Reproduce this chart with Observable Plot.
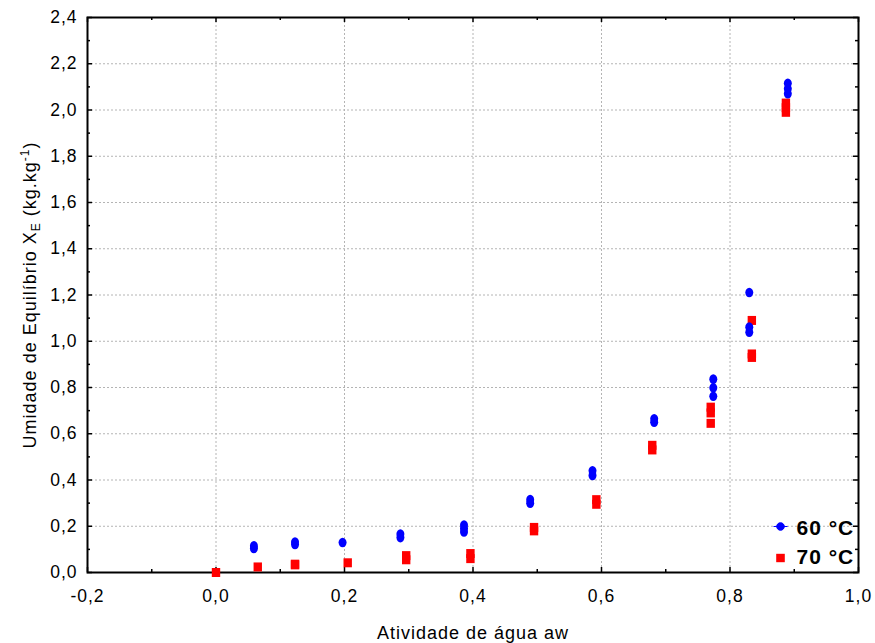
<!DOCTYPE html>
<html>
<head>
<meta charset="utf-8">
<script src="https://cdn.jsdelivr.net/npm/d3@7"></script>
<script src="https://cdn.jsdelivr.net/npm/@observablehq/plot@0.6"></script>
<style>
  html, body { margin: 0; padding: 0; background: #ffffff; }
  #chart { width: 875px; height: 643px; }
</style>
</head>
<body>
<div id="chart"></div>
<script>
// ---- Data ----
// 60 °C series
const aw60 = [0.059, 0.059, 0.123, 0.123, 0.197, 0.287, 0.287, 0.386, 0.386, 0.386,
              0.489, 0.489, 0.586, 0.586, 0.682, 0.682, 0.774, 0.774, 0.774,
              0.830, 0.830, 0.830, 0.890, 0.890, 0.890];
const xe60 = [0.115, 0.104, 0.132, 0.121, 0.130, 0.166, 0.151, 0.205, 0.190, 0.175,
              0.315, 0.300, 0.440, 0.420, 0.665, 0.650, 0.836, 0.799, 0.762,
              1.211, 1.061, 1.039, 2.116, 2.092, 2.070];
// 70 °C series
const aw70 = [0.000, 0.065, 0.123, 0.123, 0.205, 0.296, 0.296, 0.396, 0.396,
              0.495, 0.495, 0.592, 0.592, 0.679, 0.679, 0.770, 0.770, 0.770,
              0.834, 0.834, 0.834, 0.887, 0.887, 0.887];
const xe70 = [0.000, 0.024, 0.036, 0.033, 0.042, 0.073, 0.055, 0.082, 0.060,
              0.195, 0.180, 0.315, 0.295, 0.550, 0.530, 0.715, 0.690, 0.645,
              1.090, 0.945, 0.930, 2.030, 2.010, 1.990];

const seriesNames = ["60 °C", "70 °C"];

// Axis ticks
const xMajor = [-0.2, 0.0, 0.2, 0.4, 0.6, 0.8, 1.0];
const xMinor = [-0.1, 0.1, 0.3, 0.5, 0.7, 0.9];
const yMajor = [0.0, 0.2, 0.4, 0.6, 0.8, 1.0, 1.2, 1.4, 1.6, 1.8, 2.0, 2.2, 2.4];
const yMinor = [0.1, 0.3, 0.5, 0.7, 0.9, 1.1, 1.3, 1.5, 1.7, 1.9, 2.1, 2.3];
const xGrid = [0.0, 0.2, 0.4, 0.6, 0.8];
const yGrid = [0.2, 0.4, 0.6, 0.8, 1.0, 1.2, 1.4, 1.6, 1.8, 2.0, 2.2];

const xTitle = "Atividade de água aw";
const yTitleParts = ["Umidade de Equilíbrio X", "E", " (kg.kg", "-1", ")"];

// ---- Build ----
const rows60 = aw60.map((a, i) => ({aw: a, xe: xe60[i]}));
const rows70 = aw70.map((a, i) => ({aw: a, xe: xe70[i]}));

const W = 875, H = 643;
const mL = 87, mR = 17, mT = 17, mB = 71;
const innerW = W - mL - mR, innerH = H - mT - mB;

function ellipse(ctx, rx, ry) {
  const k = 0.5523;
  ctx.moveTo(rx, 0);
  ctx.bezierCurveTo(rx, ry * k, rx * k, ry, 0, ry);
  ctx.bezierCurveTo(-rx * k, ry, -rx, ry * k, -rx, 0);
  ctx.bezierCurveTo(-rx, -ry * k, -rx * k, -ry, 0, -ry);
  ctx.bezierCurveTo(rx * k, -ry, rx, -ry * k, rx, 0);
  ctx.closePath();
}
const blueSymbol = {draw(ctx) { ellipse(ctx, 4.0, 4.8); }};
const redSymbol = {draw(ctx) { ctx.rect(-4.2, -4.5, 8.4, 9); }};
const legendBlue = {draw(ctx) { ellipse(ctx, 3.8, 3.8); ctx.moveTo(-7, 0); ctx.lineTo(7, 0); }};
const legendRed = {draw(ctx) { ctx.rect(-4.3, -4.2, 8.6, 8.4); }};

const fmt = d => d.toFixed(1).replace(".", ",");
const font = "'Liberation Sans', Arial, Helvetica, sans-serif";
const gridStyle = {stroke: "#b4b4b4", strokeOpacity: 1, strokeWidth: 1, strokeDasharray: "2,2"};
const tickStyle = {stroke: "black", strokeWidth: 1.5};

const chart = Plot.plot({
  width: W, height: H,
  marginLeft: mL, marginRight: mR, marginTop: mT, marginBottom: mB,
  style: {fontFamily: font, background: "white", color: "black", letterSpacing: "1px"},
  x: {domain: [-0.2, 1.0]},
  y: {domain: [0, 2.4]},
  marks: [
    Plot.gridX(xGrid, gridStyle),
    Plot.gridY(yGrid, gridStyle),
    // inward ticks (bottom, top)
    Plot.tickX(xMajor, {x: d => d, insetTop: innerH - 5, ...tickStyle}),
    Plot.tickX(xMinor, {x: d => d, insetTop: innerH - 3, ...tickStyle}),
    Plot.tickX(xMajor, {x: d => d, insetBottom: innerH - 5, ...tickStyle}),
    Plot.tickX(xMinor, {x: d => d, insetBottom: innerH - 3, ...tickStyle}),
    // inward ticks (left, right)
    Plot.tickY(yMajor, {y: d => d, insetRight: innerW - 5, ...tickStyle}),
    Plot.tickY(yMinor, {y: d => d, insetRight: innerW - 3, ...tickStyle}),
    Plot.tickY(yMajor, {y: d => d, insetLeft: innerW - 5, ...tickStyle}),
    Plot.tickY(yMinor, {y: d => d, insetLeft: innerW - 3, ...tickStyle}),
    Plot.axisX(xMajor, {tickSize: 0, tickPadding: 17, tickFormat: fmt, label: null, fontSize: 17.5}),
    Plot.axisY(yMajor, {tickSize: 0, tickPadding: 10, tickFormat: fmt, label: null, fontSize: 17.5}),
    Plot.frame({stroke: "black", strokeWidth: 2}),
    // data
    Plot.dot(rows70, {x: "aw", y: "xe", symbol: redSymbol, fill: "#ff0000"}),
    Plot.dot(rows60, {x: "aw", y: "xe", symbol: blueSymbol, fill: "#0000ff"}),
    // axis titles
    Plot.text([xTitle], {frameAnchor: "bottom", textAnchor: "middle", lineAnchor: "bottom", dy: 66.5, fontSize: 18}),
    Plot.text([yTitleParts.join("")], {frameAnchor: "left", textAnchor: "middle", rotate: -90, lineAnchor: "top", dx: -64.5, fontSize: 18}),
    // legend
    Plot.dot([seriesNames[0]], {frameAnchor: "bottom-right", dx: -78, dy: -46, symbol: legendBlue, fill: "#0000ff", stroke: "#0000ff", strokeWidth: 1}),
    Plot.dot([seriesNames[1]], {frameAnchor: "bottom-right", dx: -78, dy: -14.5, symbol: legendRed, fill: "#ff0000"}),
    Plot.text([seriesNames[0]], {frameAnchor: "bottom-right", textAnchor: "start", lineAnchor: "bottom", dx: -62, dy: -38, fontSize: 21, fontWeight: "bold"}),
    Plot.text([seriesNames[1]], {frameAnchor: "bottom-right", textAnchor: "start", lineAnchor: "bottom", dx: -62, dy: -8.7, fontSize: 21, fontWeight: "bold"})
  ]
});

// subscript / superscript in the y title
d3.select(chart).selectAll("text")
  .filter(function() { return this.textContent === yTitleParts.join(""); })
  .each(function() {
    const t = d3.select(this);
    t.text(null);
    t.append("tspan").text(yTitleParts[0]);
    t.append("tspan").attr("dy", 4).attr("font-size", 12).text(yTitleParts[1]);
    t.append("tspan").attr("dy", -4).text(yTitleParts[2]);
    t.append("tspan").attr("dy", -7).attr("font-size", 12).text(yTitleParts[3]);
    t.append("tspan").attr("dy", 7).text(yTitleParts[4]);
  });

document.getElementById("chart").appendChild(chart);
</script>
</body>
</html>
